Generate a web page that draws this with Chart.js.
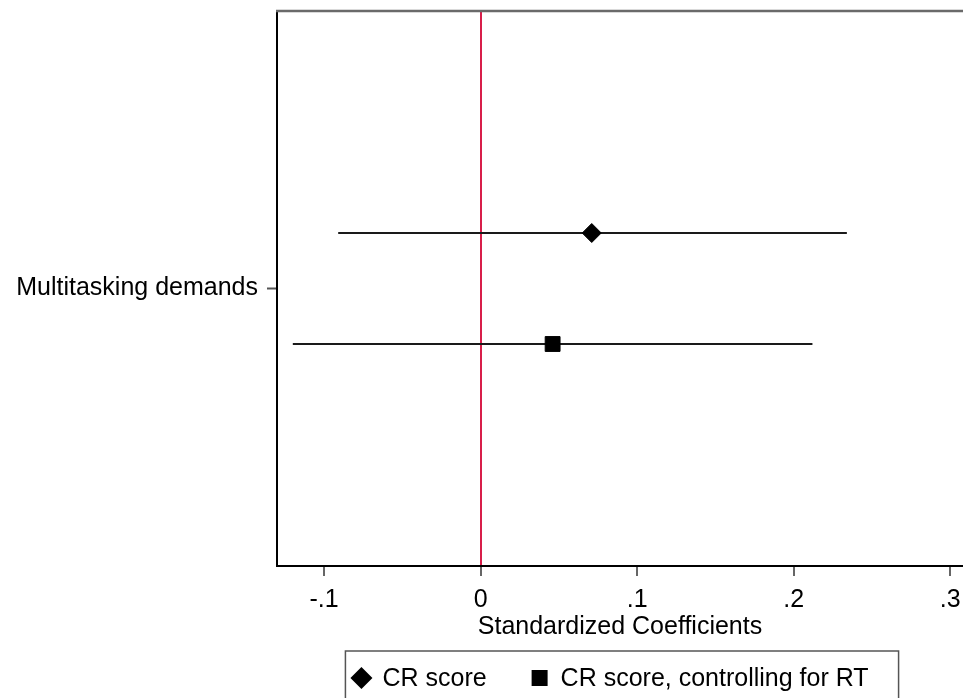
<!DOCTYPE html>
<html>
<head>
<meta charset="utf-8">
<script src="https://cdn.jsdelivr.net/npm/chart.js@4.4.1/dist/chart.umd.min.js"></script>
<style>
  html, body { margin: 0; padding: 0; background: #fff; }
  #contenedor { width: 963px; height: 698px; }
</style>
</head>
<body>
<div id="contenedor"><canvas id="chart"></canvas></div>
<script>
// Datos
const categorias = ["Multitasking demands"];
const series = ["CR score", "CR score, controlling for RT"];
const estimaciones = [0.071, 0.046];
const limiteInferior = [-0.091, -0.120];
const limiteSuperior = [0.234, 0.212];
const ticksX = [-0.1, 0, 0.1, 0.2, 0.3];
const tituloX = "Standardized Coefficients";

// Estilo
const fuente = '"Liberation Sans", Arial, sans-serif';
const rojo = "#d81e4a";
const estilosPunto = ["rectRot", "rect"];
const radiosPunto = [9.5, 10.5];
const separacionSeries = 0.2;

Chart.defaults.font.family = fuente;
Chart.defaults.font.size = 25;
Chart.defaults.color = "#000";

// posición vertical de cada serie dentro de la categoría
const posicion = (c, i) => -c + ((series.length - 1) / 2 - i) * separacionSeries;

// formato de ticks estilo Stata: -.1, 0, .1 ...
const formatoTick = (v) => {
  if (Math.abs(v) < 1e-9) return "0";
  return v.toFixed(1).replace("0.", ".");
};

const datasets = [];
series.forEach((nombre, i) => {
  const y = posicion(0, i);
  datasets.push({
    type: "line",
    label: nombre + " IC",
    data: [
      { x: limiteInferior[i], y: y },
      { x: limiteSuperior[i], y: y },
    ],
    borderColor: "#1a1a1a",
    borderWidth: 2.2,
    pointRadius: 0,
    showLine: true,
    order: 2,
  });
  datasets.push({
    type: "scatter",
    label: nombre,
    data: [{ x: estimaciones[i], y: y }],
    pointStyle: estilosPunto[i],
    pointRadius: radiosPunto[i],
    backgroundColor: "#000",
    borderColor: "#000",
    borderWidth: 1,
    order: 1,
  });
});

// línea superior del marco y leyenda con recuadro
const marcoYLeyenda = {
  id: "marcoYLeyenda",
  afterDraw(chart) {
    const { ctx, chartArea } = chart;
    ctx.save();
    ctx.strokeStyle = "#6a6a6a";
    ctx.lineWidth = 2.5;
    ctx.beginPath();
    ctx.moveTo(chartArea.left - 1, chartArea.top);
    ctx.lineTo(chartArea.right, chartArea.top);
    ctx.stroke();

    ctx.font = "25px " + fuente;
    const anchos = series.map((s) => ctx.measureText(s).width);
    const ranura = 24, hueco = 9, entreItems = 41, padIzq = 4, padDer = 30;
    let ancho = padIzq + padDer + entreItems * (series.length - 1);
    anchos.forEach((w) => (ancho += ranura + hueco + w));
    const centro = (chartArea.left + chartArea.right) / 2 + 2;
    const izq = centro - ancho / 2;
    const arriba = chartArea.bottom + 85;
    ctx.strokeStyle = "#555";
    ctx.lineWidth = 1.5;
    ctx.strokeRect(izq, arriba, ancho, 80);

    const yMarca = arriba + 27;
    let x = izq + padIzq;
    series.forEach((s, i) => {
      const cx = x + ranura / 2;
      ctx.fillStyle = "#000";
      ctx.beginPath();
      if (estilosPunto[i] === "rectRot") {
        const r = 11;
        ctx.moveTo(cx - r, yMarca);
        ctx.lineTo(cx, yMarca - r);
        ctx.lineTo(cx + r, yMarca);
        ctx.lineTo(cx, yMarca + r);
        ctx.closePath();
      } else {
        ctx.rect(cx - 8, yMarca - 8, 16, 16);
      }
      ctx.fill();
      ctx.textBaseline = "alphabetic";
      ctx.textAlign = "left";
      ctx.fillText(s, x + ranura + hueco, arriba + 35);
      x += ranura + hueco + anchos[i] + entreItems;
    });
    ctx.restore();
  },
};

const ctx = document.getElementById("chart");
const grafico = new Chart(ctx, {
  type: "scatter",
  data: { datasets },
  plugins: [marcoYLeyenda],
  options: {
    responsive: true,
    maintainAspectRatio: false,
    animation: false,
    layout: { autoPadding: false, padding: { top: 11, left: 0, right: 0, bottom: 56 } },
    plugins: {
      legend: { display: false },
      tooltip: { enabled: false },
    },
    scales: {
      x: {
        type: "linear",
        min: -0.1301,
        max: 0.3082,
        afterBuildTicks: (eje) => {
          eje.ticks = ticksX.map((v) => ({ value: v }));
        },
        afterFit: (eje) => {
          eje.height = 76;
          eje.paddingLeft = 0;
          eje.paddingRight = 0;
        },
        ticks: {
          maxRotation: 0,
          padding: 9,
          callback: (v) => formatoTick(v),
        },
        grid: {
          drawOnChartArea: true,
          color: (c) => (c.tick && Math.abs(c.tick.value) < 1e-9 ? rojo : "rgba(0,0,0,0)"),
          lineWidth: 2,
          tickLength: 10,
          tickColor: "#666",
          tickWidth: 2,
        },
        border: { color: "#000", width: 2 },
        title: {
          display: true,
          text: tituloX,
          font: { size: 25 },
          padding: 0,
        },
      },
      y: {
        type: "linear",
        min: -0.5,
        max: 0.5,
        afterBuildTicks: (eje) => {
          eje.ticks = categorias.map((c, i) => ({ value: -i }));
        },
        afterFit: (eje) => {
          eje.width = 277;
          eje.paddingTop = 0;
          eje.paddingBottom = 0;
        },
        ticks: {
          padding: 9,
          callback: (v) => categorias[Math.round(-v)],
        },
        grid: {
          drawOnChartArea: false,
          tickLength: 10,
          tickColor: "#555",
          tickWidth: 2,
        },
        border: { color: "#000", width: 2 },
      },
    },
  },
});
</script>
</body>
</html>
